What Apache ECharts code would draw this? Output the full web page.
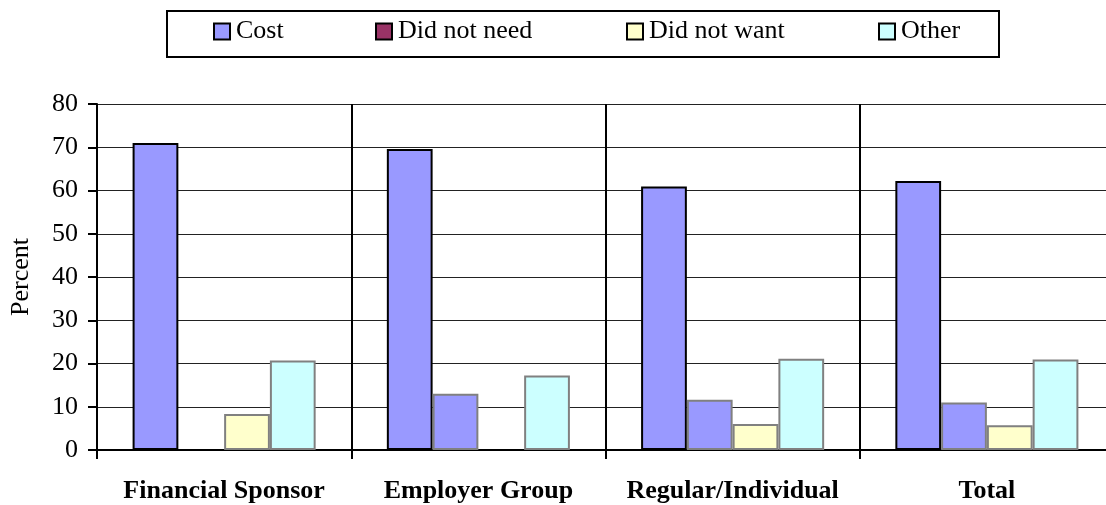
<!DOCTYPE html>
<html>
<head>
<meta charset="utf-8">
<script src="https://cdn.jsdelivr.net/npm/echarts@6/dist/echarts.min.js"></script>
<style>
  html, body { margin: 0; padding: 0; background: #fff; overflow: hidden; }
  #chart { width: 1125px; height: 505px; }
</style>
</head>
<body>
<div id="chart"></div>
<script>
// Reasons for not having coverage, by plan type (percent)
const categories = ['Financial Sponsor', 'Employer Group', 'Regular/Individual', 'Total'];
const seriesNames = ['Cost', 'Did not need', 'Did not want', 'Other'];
const costValues = [71.0, 69.6, 60.9, 62.2];
const didNotNeedValues = [null, 13.0, 11.6, 11.0];
const didNotWantValues = [8.3, null, 6.0, 5.7];
const otherValues = [20.7, 17.2, 21.1, 20.9];
const yTicks = [0, 10, 20, 30, 40, 50, 60, 70, 80];

const FONT = "'Liberation Serif', 'Times New Roman', serif";

// Fill and outline for each series' bars, and the swatch shown in the key
const barFill = ['#9999FF', '#9999FF', '#FFFFCC', '#CCFFFF'];
const barEdge = ['#000000', '#808080', '#808080', '#808080'];
const keyFill = ['#9999FF', '#993366', '#FFFFCC', '#CCFFFF'];
const keyLeft = [213, 375, 626, 878];

const values = [costValues, didNotNeedValues, didNotWantValues, otherValues];

const chart = echarts.init(document.getElementById('chart'));

const legends = seriesNames.map((name, i) => ({
  left: keyLeft[i],
  top: 18,
  padding: 0,
  itemWidth: 16,
  itemHeight: 16,
  itemGap: 0,
  icon: 'rect',
  selectedMode: false,
  textStyle: { fontFamily: FONT, fontSize: 26, color: '#000', lineHeight: 27, padding: [0, 0, 0, 1] },
  data: [{
    name: name,
    itemStyle: { color: keyFill[i], borderColor: '#000', borderWidth: 2 }
  }]
}));

const series = seriesNames.map((name, i) => ({
  name: name,
  type: 'bar',
  data: values[i],
  barGap: '0%',
  barCategoryGap: '28%',
  itemStyle: { color: barFill[i], borderColor: barEdge[i], borderWidth: 2 },
  emphasis: { disabled: true }
}));

chart.setOption({
  animation: false,
  backgroundColor: '#fff',
  graphic: [{
    type: 'rect',
    shape: { x: 167, y: 11, width: 832, height: 46 },
    style: { fill: 'none', stroke: '#000', lineWidth: 2 },
    z: 0
  }],
  legend: legends,
  grid: { left: 95, top: 104, right: 11, bottom: 55, containLabel: false },
  xAxis: {
    type: 'category',
    data: categories,
    boundaryGap: true,
    axisLine: { lineStyle: { color: '#000', width: 2 } },
    axisTick: { show: true, length: 9, lineStyle: { color: '#000', width: 2 } },
    splitLine: { show: true, lineStyle: { color: '#000', width: 2 } },
    axisLabel: { fontFamily: FONT, fontSize: 26, fontWeight: 'bold', color: '#000', margin: 28, interval: 0 }
  },
  yAxis: {
    type: 'value',
    min: yTicks[0],
    max: yTicks[yTicks.length - 1],
    interval: yTicks[1] - yTicks[0],
    name: 'Percent',
    nameLocation: 'middle',
    nameGap: 63,
    nameTextStyle: { fontFamily: FONT, fontSize: 26, color: '#000' },
    axisLine: { show: true, lineStyle: { color: '#000', width: 2 } },
    axisTick: { show: true, length: 9, lineStyle: { color: '#000', width: 2 } },
    splitLine: { show: true, lineStyle: { color: '#222', width: 1 } },
    axisLabel: { fontFamily: FONT, fontSize: 26, color: '#000', margin: 19 }
  },
  series: series
});
</script>
</body>
</html>
